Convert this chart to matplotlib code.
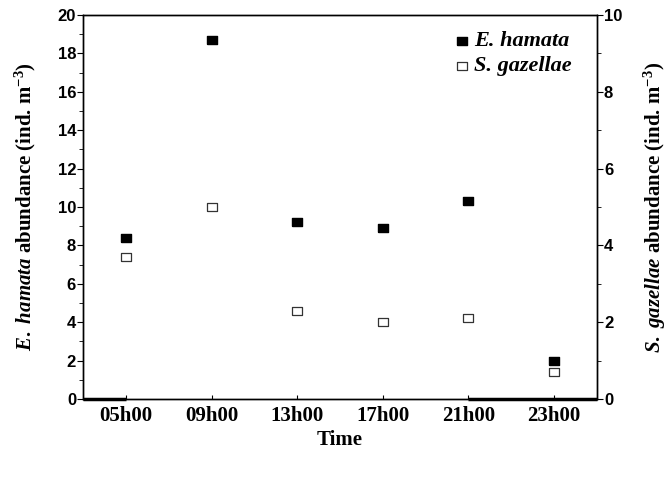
import matplotlib
matplotlib.use("Agg")
import matplotlib.pyplot as plt
from matplotlib.ticker import MultipleLocator

# Sampling times and abundances (ind. m-3)
times = ["05h00", "09h00", "13h00", "17h00", "21h00", "23h00"]
e_hamata = [8.4, 18.7, 9.2, 8.9, 10.3, 2.0]
s_gazellae = [3.7, 5.0, 2.3, 2.0, 2.1, 0.7]

plt.rcParams["mathtext.fontset"] = "custom"
plt.rcParams["mathtext.rm"] = "Liberation Serif:bold"
plt.rcParams["mathtext.it"] = "Liberation Serif:italic:bold"

serif = "Liberation Serif"
sans = "Liberation Sans"

# wide, flat square marker like the original
rect = [(-1.3, -1), (1.3, -1), (1.3, 1), (-1.3, 1), (-1.3, -1)]

fig = plt.figure(figsize=(6.72, 4.79), dpi=100)
ax = fig.add_axes([83 / 672, 80 / 479, 514 / 672, 384 / 479])
ax2 = ax.twinx()

x = list(range(len(times)))
h1, = ax.plot(x, e_hamata, linestyle="none", marker=rect, markersize=7,
              color="black", markerfacecolor="black", label="E. hamata")
h2, = ax2.plot(x, s_gazellae, linestyle="none", marker=rect, markersize=7,
               color="#333333", markerfacecolor="white", markeredgewidth=0.9,
               label="S. gazellae")

# thick baseline pieces along the x axis
ax.hlines(0, -0.5, 0, color="black", linewidth=2.5, zorder=5, clip_on=False)
ax.hlines(0, 4, 5.5, color="black", linewidth=2.5, zorder=5, clip_on=False)

ax.set_xlim(-0.5, 5.5)
ax.set_ylim(0, 20)
ax2.set_ylim(0, 10)

ax.set_xticks(x)
ax.set_xticklabels(times, fontfamily=serif, fontweight="bold", fontsize=15)
ax.yaxis.set_major_locator(MultipleLocator(2))
ax.yaxis.set_minor_locator(MultipleLocator(1))
ax2.yaxis.set_major_locator(MultipleLocator(2))
ax2.yaxis.set_minor_locator(MultipleLocator(1))

for lab in ax.get_yticklabels() + ax2.get_yticklabels():
    lab.set_fontfamily(sans)
    lab.set_fontweight("bold")
    lab.set_fontsize(12)

ax.tick_params(axis="x", direction="in", length=3, pad=5)
ax.tick_params(axis="y", which="major", direction="out", length=4, pad=1)
ax.tick_params(axis="y", which="minor", direction="out", length=3)
ax2.tick_params(axis="y", which="major", direction="out", length=4, pad=1)
ax2.tick_params(axis="y", which="minor", direction="out", length=3)

for a in (ax, ax2):
    for s in a.spines.values():
        s.set_linewidth(1.0)

ax.set_xlabel("Time", fontfamily=serif, fontweight="bold", fontsize=15, labelpad=3)
ax.set_ylabel(r"$\mathit{E.\ hamata}$ abundance (ind. m$^{-3}$)",
              fontfamily=serif, fontweight="bold", fontsize=15, labelpad=14)
ax2.set_ylabel(r"$\mathit{S.\ gazellae}$ abundance (ind. m$^{-3}$)",
               fontfamily=serif, fontweight="bold", fontsize=15, labelpad=14,
               rotation=90)

leg = ax.legend(handles=[h1, h2], loc="upper right", frameon=False,
                bbox_to_anchor=(0.975, 0.99), handletextpad=0.4,
                labelspacing=0.35, handlelength=1.0)
for t in leg.get_texts():
    t.set_fontfamily(serif)
    t.set_fontstyle("italic")
    t.set_fontweight("bold")
    t.set_fontsize(16)

fig.savefig("out.png", dpi=100)
